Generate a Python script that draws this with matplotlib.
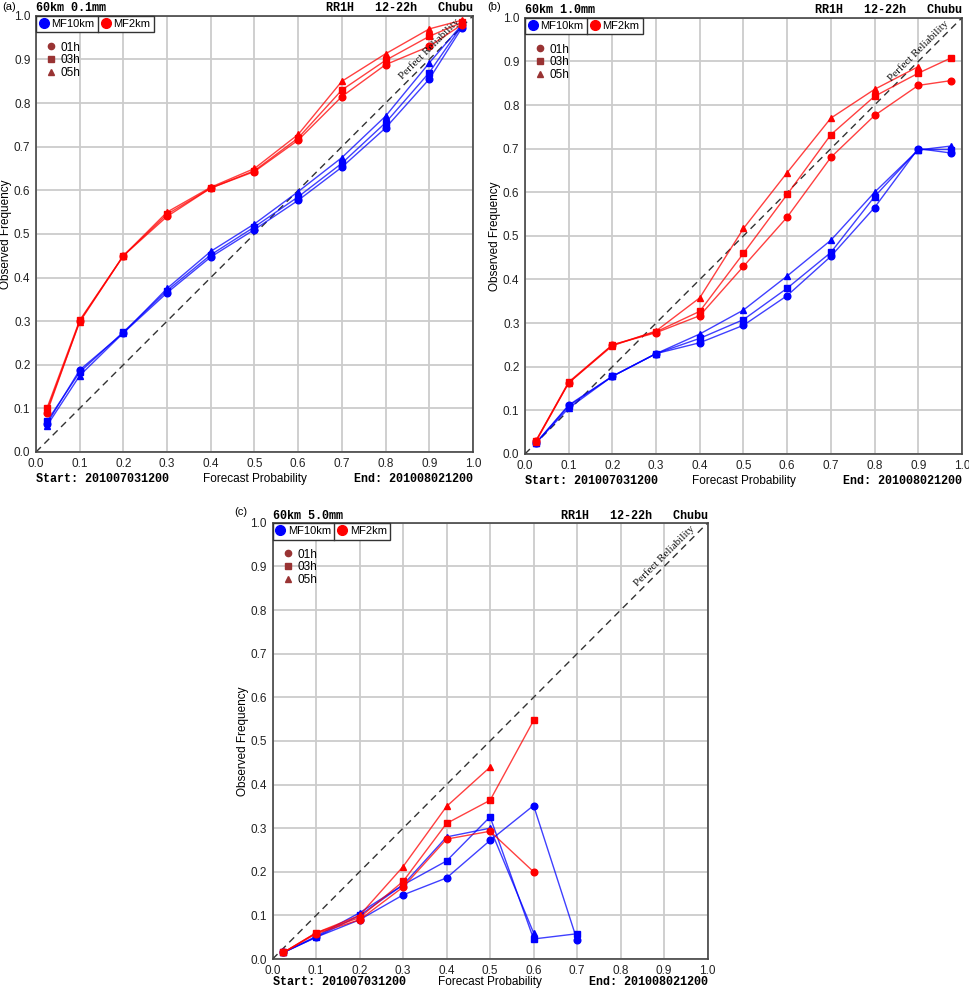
import numpy as np
import matplotlib
matplotlib.use("Agg")
import matplotlib.pyplot as plt
from matplotlib.lines import Line2D

plt.rcParams["font.family"] = ["Liberation Sans", "DejaVu Sans"]

# forecast probability bins
x_bins = [0.025, 0.1, 0.2, 0.3, 0.4, 0.5, 0.6, 0.7, 0.8, 0.9, 0.975]
nan = np.nan

# (a) 0.1mm
a_mf2_01 = [0.09, 0.300, 0.450, 0.540, 0.605, 0.643, 0.715, 0.815, 0.888, 0.930, 0.980]
a_mf2_03 = [0.10, 0.302, 0.450, 0.545, 0.605, 0.645, 0.720, 0.830, 0.898, 0.953, 0.985]
a_mf2_05 = [0.095, 0.298, 0.450, 0.550, 0.607, 0.650, 0.728, 0.850, 0.913, 0.970, 0.990]
a_mf10_01 = [0.065, 0.188, 0.273, 0.365, 0.447, 0.510, 0.577, 0.653, 0.743, 0.855, 0.973]
a_mf10_03 = [0.070, 0.183, 0.275, 0.370, 0.452, 0.516, 0.585, 0.662, 0.755, 0.870, 0.978]
a_mf10_05 = [0.060, 0.175, 0.273, 0.375, 0.460, 0.523, 0.597, 0.675, 0.770, 0.892, 0.980]

# (b) 1.0mm
b_mf2_01 = [0.030, 0.163, 0.250, 0.278, 0.317, 0.430, 0.543, 0.680, 0.776, 0.845, 0.856]
b_mf2_03 = [0.030, 0.165, 0.250, 0.280, 0.327, 0.460, 0.595, 0.732, 0.820, 0.873, 0.908]
b_mf2_05 = [0.028, 0.163, 0.248, 0.282, 0.358, 0.517, 0.645, 0.770, 0.836, 0.888, nan]
b_mf10_01 = [0.025, 0.112, 0.178, 0.230, 0.255, 0.295, 0.363, 0.453, 0.565, 0.700, 0.690]
b_mf10_03 = [0.025, 0.110, 0.178, 0.230, 0.265, 0.308, 0.380, 0.462, 0.590, 0.698, 0.698]
b_mf10_05 = [0.025, 0.105, 0.178, 0.230, 0.275, 0.330, 0.408, 0.490, 0.600, 0.697, 0.706]

# (c) 5.0mm
c_mf2_01 = [0.015, 0.058, 0.090, 0.165, 0.275, 0.293, 0.200, nan, nan, nan, nan]
c_mf2_03 = [0.015, 0.060, 0.095, 0.178, 0.311, 0.364, 0.547, nan, nan, nan, nan]
c_mf2_05 = [0.015, 0.060, 0.100, 0.212, 0.350, 0.440, nan, nan, nan, nan, nan]
c_mf10_01 = [0.015, 0.050, 0.090, 0.147, 0.186, 0.272, 0.352, 0.043, nan, nan, nan]
c_mf10_03 = [0.015, 0.050, 0.100, 0.170, 0.225, 0.326, 0.046, 0.058, nan, nan, nan]
c_mf10_05 = [0.015, 0.052, 0.106, 0.170, 0.280, 0.300, 0.060, nan, nan, nan, nan]

panels = [
    ("(a)", "60km 0.1mm", [a_mf10_01, a_mf10_03, a_mf10_05], [a_mf2_01, a_mf2_03, a_mf2_05]),
    ("(b)", "60km 1.0mm", [b_mf10_01, b_mf10_03, b_mf10_05], [b_mf2_01, b_mf2_03, b_mf2_05]),
    ("(c)", "60km 5.0mm", [c_mf10_01, c_mf10_03, c_mf10_05], [c_mf2_01, c_mf2_03, c_mf2_05]),
]
positions = [
    [0.0371, 0.543, 0.4505, 0.441],
    [0.5412, 0.541, 0.4505, 0.441],
    [0.281, 0.0303, 0.4485, 0.441],
]
label_pos = [(0.002, 0.993), (0.502, 0.993), (0.242, 0.4823)]
bottom_y = [-0.062, -0.063, -0.052]
markers = ["o", "s", "^"]
hours = ["01h", "03h", "05h"]
mono = ["Liberation Mono", "DejaVu Sans Mono"]

fig = plt.figure(figsize=(9.7, 9.89), dpi=100)
legends = []

for (lab, title, blue_sets, red_sets), pos, lp, by in zip(panels, positions, label_pos, bottom_y):
    ax = fig.add_axes(pos)
    ax.set_xlim(0, 1)
    ax.set_ylim(0, 1)
    ticks = np.round(np.arange(0, 1.01, 0.1), 1)
    ax.set_xticks(ticks)
    ax.set_yticks(ticks)
    ax.set_xticklabels(["%.1f" % t for t in ticks], fontsize=8.5, color="#222222")
    ax.set_yticklabels(["%.1f" % t for t in ticks], fontsize=8.5, color="#222222")
    ax.tick_params(length=0, pad=4)
    ax.grid(True, color="#cccccc", lw=1.3)
    ax.set_axisbelow(True)
    for s in ax.spines.values():
        s.set_color("#444444")
        s.set_linewidth(1.2)

    ax.plot([0, 1], [0, 1], color="#333333", lw=1, ls=(0, (5, 3.5)))
    ax.text(0.9, 0.925, "Perfect Reliability", rotation=45, ha="center", va="center",
            fontsize=8, family=["Liberation Serif", "DejaVu Serif"], color="#111111")

    for ys, m in zip(blue_sets, markers):
        ax.plot(x_bins, ys, color="#0000ff", lw=1.0, alpha=0.75)
        ax.plot(x_bins, ys, ls="none", marker=m, ms=4.8, color="#0000ff")
    for ys, m in zip(red_sets, markers):
        ax.plot(x_bins, ys, color="#ff0000", lw=1.0, alpha=0.75)
        ax.plot(x_bins, ys, ls="none", marker=m, ms=4.8, color="#ff0000")

    h1 = [Line2D([], [], ls="none", marker="o", ms=7, color="#0000ff"),
          Line2D([], [], ls="none", marker="o", ms=7, color="#ff0000")]
    leg1 = ax.legend(h1, ["MF10km", "MF2km"], loc="upper left", ncol=2, fontsize=8,
                     frameon=True, fancybox=False, edgecolor="#333333", framealpha=1,
                     borderaxespad=0, borderpad=0.3, handlelength=0.8, handletextpad=0.3,
                     columnspacing=0.6)
    leg1.get_frame().set_linewidth(1.0)
    ax.add_artist(leg1)
    legends.append((ax, leg1))
    h2 = [Line2D([], [], ls="none", marker=m, ms=4.5, color="#993333") for m in markers]
    ax.legend(h2, hours, loc="upper left", bbox_to_anchor=(0.005, 0.96), fontsize=8.5,
              frameon=False, handlelength=0.8, handletextpad=0.4, labelspacing=0.05,
              borderpad=0.2)

    ax.text(0.0, 1.01, title, transform=ax.transAxes, ha="left", va="baseline",
            fontsize=8.5, family=mono, fontweight="bold")
    ax.text(1.0, 1.01, "RR1H   12-22h   Chubu", transform=ax.transAxes, ha="right",
            va="baseline", fontsize=8.5, family=mono, fontweight="bold")
    ax.text(0.0, by, "Start: 201007031200", transform=ax.transAxes, ha="left",
            va="center", fontsize=8.5, family=mono, fontweight="bold")
    ax.text(0.5, by, "Forecast Probability", transform=ax.transAxes, ha="center",
            va="center", fontsize=8.5)
    ax.text(1.0, by, "End: 201008021200", transform=ax.transAxes, ha="right",
            va="center", fontsize=8.5, family=mono, fontweight="bold")
    ax.set_ylabel("Observed Frequency", fontsize=8.5)
    ax.yaxis.set_label_coords(-0.054, 0.5)
    fig.text(lp[0], lp[1], lab, ha="left", va="center", fontsize=8)

# divider between the two legend entries
fig.canvas.draw()
for ax, leg in legends:
    t0 = leg.get_texts()[0].get_window_extent()
    fr = leg.get_frame().get_window_extent()
    inv = ax.transAxes.inverted()
    x0, y0 = inv.transform((t0.x1 + 3, fr.y0))
    _, y1 = inv.transform((t0.x1 + 3, fr.y1))
    ax.plot([x0, x0], [y0, y1], color="#333333", lw=1.0, transform=ax.transAxes,
            clip_on=False, zorder=6)

fig.savefig("out.png", dpi=100)
